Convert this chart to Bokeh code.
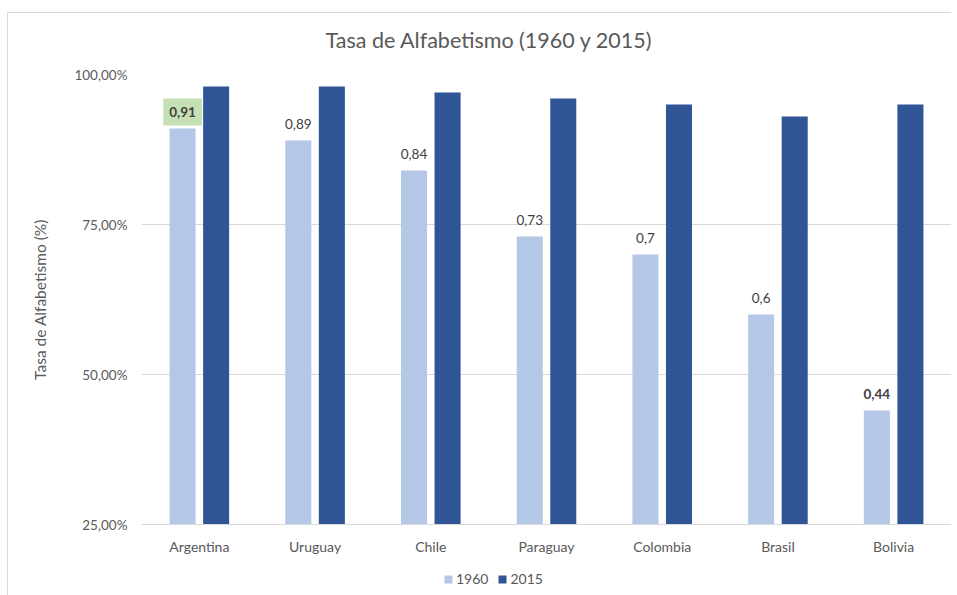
from bokeh.plotting import figure
from bokeh.layouts import column
from bokeh.models import FactorRange, Range1d, FixedTicker, CustomJSTickFormatter, ColumnDataSource, Legend, LegendItem
from bokeh.transform import dodge
from bokeh.core.properties import value
from bokeh.embed import file_html
from bokeh.resources import INLINE

# ---- data ----
countries = ["Argentina", "Uruguay", "Chile", "Paraguay", "Colombia", "Brasil", "Bolivia"]
rate_1960 = [0.91, 0.89, 0.84, 0.73, 0.70, 0.60, 0.44]
rate_2015 = [0.98, 0.98, 0.97, 0.96, 0.95, 0.93, 0.95]
series_names = ["1960", "2015"]
y_ticks = [0.25, 0.50, 0.75, 1.00]
title_text = "Tasa de Alfabetismo (1960 y 2015)"
y_title = "Tasa de Alfabetismo (%)"

# label highlighting (style configuration)
bold_countries = ["Argentina", "Bolivia"]
boxed_countries = ["Argentina"]

FONT = "Lato"
TXT = "#595959"
C1960 = "#b4c7e7"
C2015 = "#2f5597"
LINE = "linear-gradient(#d9d9d9,#d9d9d9)"
OFF = 0.145
W = 0.225

def fmt(v):
    return f"{v:g}".replace(".", ",")

src = ColumnDataSource(dict(country=countries, v1960=rate_1960, v2015=rate_2015))

p = figure(
    x_range=FactorRange(factors=countries, range_padding=0),
    y_range=Range1d(0.25, 1.0),
    frame_width=810, frame_height=450,
    min_border_left=141, min_border_top=74, min_border_bottom=30, min_border_right=0,
    output_backend="svg", toolbar_location=None,
    background_fill_color="white", border_fill_color=None,
)
# chart-area frame lines (left and top edge of the chart box)
p.styles = {"background": f"{LINE} 7px 12px / 1px 100% no-repeat, "
                          f"{LINE} 7px 12px / 100% 1px no-repeat, white"}
p.outline_line_color = None

p.title.text = title_text
p.title.align = "left"
p.title.offset = 184
p.title.standoff = 44
p.title.text_font = FONT
p.title.text_font_size = "21.5px"
p.title.text_font_style = "normal"
p.title.text_color = TXT

p.vbar(x=dodge("country", -OFF, range=p.x_range), top="v1960", bottom=0.25, width=W,
       source=src, fill_color=C1960, line_color=None)
p.vbar(x=dodge("country", OFF, range=p.x_range), top="v2015", bottom=0.25, width=W,
       source=src, fill_color=C2015, line_color=None)

# data labels for 1960
def subset(pred):
    idx = [i for i, c in enumerate(countries) if pred(c)]
    return ColumnDataSource(dict(
        country=[countries[i] for i in idx],
        v=[rate_1960[i] for i in idx],
        t=[fmt(rate_1960[i]) for i in idx],
    ))

src_norm = subset(lambda c: c not in bold_countries)
src_bold = subset(lambda c: c in bold_countries and c not in boxed_countries)
src_box = subset(lambda c: c in boxed_countries)

common = dict(x=dodge("country", -OFF, range=p.x_range), y="v", text="t",
              text_align="center", text_baseline="bottom",
              text_font=value(FONT), text_font_size="13.5px", text_color="#404040")
p.text(source=src_norm, y_offset=-12, **common)
p.text(source=src_bold, y_offset=-12, text_font_style="bold", **common)
p.text(source=src_box, y_offset=-3, text_font_style="bold",
       background_fill_color="#c5e0b4", padding=dict(left=6, right=6, top=8, bottom=9), **common)

# axes
p.yaxis.ticker = FixedTicker(ticks=y_ticks)
p.yaxis.formatter = CustomJSTickFormatter(code="return (tick*100).toFixed(2).replace('.', ',') + '%';")
p.yaxis.axis_line_color = None
p.yaxis.major_tick_line_color = None
p.yaxis.minor_tick_line_color = None
p.yaxis.major_tick_out = 0
p.yaxis.major_tick_in = 0
p.yaxis.minor_tick_out = 0
p.yaxis.major_label_standoff = 14
p.yaxis.major_label_text_font = FONT
p.yaxis.major_label_text_font_size = "13.5px"
p.yaxis.major_label_text_color = TXT
p.yaxis.axis_label = y_title
p.yaxis.axis_label_text_font = FONT
p.yaxis.axis_label_text_font_size = "15.5px"
p.yaxis.axis_label_text_font_style = "normal"
p.yaxis.axis_label_text_color = TXT
p.yaxis.axis_label_standoff = 22

p.xaxis.axis_line_color = "#d9d9d9"
p.xaxis.major_tick_line_color = None
p.xaxis.minor_tick_line_color = None
p.xaxis.major_tick_out = 0
p.xaxis.major_tick_in = 0
p.xaxis.minor_tick_out = 0
p.xaxis.major_label_standoff = 13
p.xaxis.major_label_text_font = FONT
p.xaxis.major_label_text_font_size = "14px"
p.xaxis.major_label_text_color = TXT

p.xgrid.grid_line_color = None
p.ygrid.ticker = FixedTicker(ticks=y_ticks)
p.ygrid.grid_line_color = "#d9d9d9"

# ---- legend strip below the chart (same series, drawn out of view; only the legend shows) ----
lf = figure(width=951, height=40, min_border=0, x_range=p.x_range, y_range=Range1d(2, 3),
            x_axis_location=None, y_axis_location=None,
            output_backend="svg", toolbar_location=None,
            background_fill_color=None, border_fill_color=None)
lf.styles = {"background": f"{LINE} 7px 0 / 1px 100% no-repeat, white"}
lf.outline_line_color = None
lf.grid.visible = False
g1 = lf.vbar(x=dodge("country", -OFF, range=p.x_range), top="v1960", bottom=0.25, width=W,
             source=src, fill_color=C1960, line_color=None)
g2 = lf.vbar(x=dodge("country", OFF, range=p.x_range), top="v2015", bottom=0.25, width=W,
             source=src, fill_color=C2015, line_color=None)

leg = Legend(items=[LegendItem(label=series_names[0], renderers=[g1]),
                    LegendItem(label=series_names[1], renderers=[g2])])
leg.orientation = "horizontal"
leg.location = (302, 10)
leg.glyph_width = 10
leg.glyph_height = 10
leg.label_height = 16
leg.label_standoff = 3
leg.spacing = 9
leg.padding = 0
leg.margin = 0
leg.border_line_color = None
leg.background_fill_alpha = 0
leg.label_text_font = FONT
leg.label_text_font_size = "14px"
leg.label_text_color = TXT
lf.add_layout(leg, "center")

layout = column(p, lf, spacing=0)
open("out.html", "w").write(file_html(layout, INLINE))
